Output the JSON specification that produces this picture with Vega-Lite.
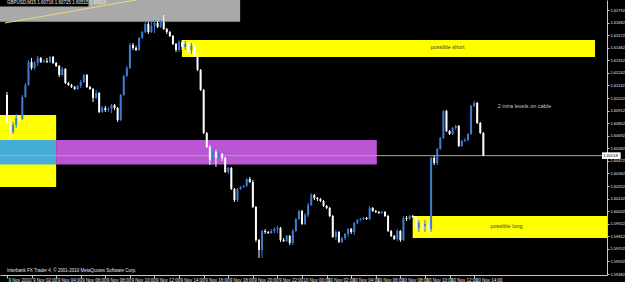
{
"$schema": "https://vega.github.io/schema/vega-lite/v6.json",
"width": 607,
"height": 275,
"autosize": "none",
"padding": {"left": 0, "top": 0, "right": 18, "bottom": 7},
"background": "#000000",
"view": {"stroke": null},
"config": {"font": "Liberation Sans", "text": {"font": "Liberation Sans"}},
"resolve": {"scale": {"color": "independent", "size": "independent"}},
"datasets": {
"zones": [
{"zone": "left", "t1": "2010-11-08T20:00", "t2": "2010-11-09T04:00", "p1": 1.60244, "p2": 1.60874},
{"zone": "overlap", "t1": "2010-11-08T20:00", "t2": "2010-11-09T04:00", "p1": 1.60441, "p2": 1.60655},
{"zone": "orchid", "t1": "2010-11-09T04:00", "t2": "2010-11-10T06:05", "p1": 1.60441, "p2": 1.60655},
{"zone": "short", "t1": "2010-11-09T14:14", "t2": "2010-11-10T23:50", "p1": 1.61381, "p2": 1.61530},
{"zone": "long", "t1": "2010-11-10T09:00", "t2": "2010-11-11T03:00", "p1": 1.59798, "p2": 1.59990},
{"zone": "header", "t1": "2010-11-08T20:00", "t2": "2010-11-09T18:58", "p1": 1.61690, "p2": 1.6200},
{"zone": "caption", "t1": "2010-11-08T20:00", "t2": "2010-11-09T06:38", "p1": 1.61823, "p2": 1.6200}
],
"bars": [
{"t":"2010-11-09T00:00","o":1.61049,"h":1.61075,"l":1.60795,"c":1.60813},
{"t":"2010-11-09T00:15","o":1.60813,"h":1.60848,"l":1.60673,"c":1.60725},
{"t":"2010-11-09T00:30","o":1.60725,"h":1.60813,"l":1.60708,"c":1.60786},
{"t":"2010-11-09T00:45","o":1.60786,"h":1.60883,"l":1.60760,"c":1.60848},
{"t":"2010-11-09T01:00","o":1.60848,"h":1.60874,"l":1.60813,"c":1.60839},
{"t":"2010-11-09T01:15","o":1.60839,"h":1.61049,"l":1.60830,"c":1.61031},
{"t":"2010-11-09T01:30","o":1.61031,"h":1.61154,"l":1.61023,"c":1.61136},
{"t":"2010-11-09T01:45","o":1.61136,"h":1.61355,"l":1.61128,"c":1.61338},
{"t":"2010-11-09T02:00","o":1.61338,"h":1.61373,"l":1.61268,"c":1.61285},
{"t":"2010-11-09T02:15","o":1.61285,"h":1.61346,"l":1.61268,"c":1.61329},
{"t":"2010-11-09T02:30","o":1.61329,"h":1.61390,"l":1.61303,"c":1.61373},
{"t":"2010-11-09T02:45","o":1.61373,"h":1.61381,"l":1.61329,"c":1.61338},
{"t":"2010-11-09T03:00","o":1.61338,"h":1.61364,"l":1.61329,"c":1.61346},
{"t":"2010-11-09T03:15","o":1.61346,"h":1.61373,"l":1.61329,"c":1.61338},
{"t":"2010-11-09T03:30","o":1.61338,"h":1.61390,"l":1.61329,"c":1.61381},
{"t":"2010-11-09T03:45","o":1.61381,"h":1.61390,"l":1.61320,"c":1.61329},
{"t":"2010-11-09T04:00","o":1.61329,"h":1.61338,"l":1.61294,"c":1.61303},
{"t":"2010-11-09T04:15","o":1.61303,"h":1.61311,"l":1.61206,"c":1.61224},
{"t":"2010-11-09T04:30","o":1.61224,"h":1.61294,"l":1.61215,"c":1.61276},
{"t":"2010-11-09T04:45","o":1.61276,"h":1.61285,"l":1.61145,"c":1.61154},
{"t":"2010-11-09T05:00","o":1.61154,"h":1.61163,"l":1.61128,"c":1.61136},
{"t":"2010-11-09T05:15","o":1.61136,"h":1.61145,"l":1.61110,"c":1.61119},
{"t":"2010-11-09T05:30","o":1.61119,"h":1.61128,"l":1.61093,"c":1.61101},
{"t":"2010-11-09T05:45","o":1.61101,"h":1.61136,"l":1.61093,"c":1.61128},
{"t":"2010-11-09T06:00","o":1.61128,"h":1.61180,"l":1.61110,"c":1.61163},
{"t":"2010-11-09T06:15","o":1.61163,"h":1.61233,"l":1.61154,"c":1.61224},
{"t":"2010-11-09T06:30","o":1.61224,"h":1.61233,"l":1.61110,"c":1.61119},
{"t":"2010-11-09T06:45","o":1.61119,"h":1.61128,"l":1.61093,"c":1.61101},
{"t":"2010-11-09T07:00","o":1.61101,"h":1.61110,"l":1.60988,"c":1.61023},
{"t":"2010-11-09T07:15","o":1.61023,"h":1.61093,"l":1.61014,"c":1.61066},
{"t":"2010-11-09T07:30","o":1.61066,"h":1.61075,"l":1.60891,"c":1.60900},
{"t":"2010-11-09T07:45","o":1.60900,"h":1.60953,"l":1.60891,"c":1.60935},
{"t":"2010-11-09T08:00","o":1.60935,"h":1.60953,"l":1.60900,"c":1.60918},
{"t":"2010-11-09T08:15","o":1.60918,"h":1.60944,"l":1.60900,"c":1.60926},
{"t":"2010-11-09T08:30","o":1.60926,"h":1.60970,"l":1.60891,"c":1.60961},
{"t":"2010-11-09T08:45","o":1.60961,"h":1.60970,"l":1.60918,"c":1.60935},
{"t":"2010-11-09T09:00","o":1.60935,"h":1.60944,"l":1.60813,"c":1.60830},
{"t":"2010-11-09T09:15","o":1.60830,"h":1.61058,"l":1.60821,"c":1.61049},
{"t":"2010-11-09T09:30","o":1.61049,"h":1.61224,"l":1.61040,"c":1.61215},
{"t":"2010-11-09T09:45","o":1.61215,"h":1.61303,"l":1.61206,"c":1.61285},
{"t":"2010-11-09T10:00","o":1.61285,"h":1.61504,"l":1.61276,"c":1.61486},
{"t":"2010-11-09T10:15","o":1.61486,"h":1.61504,"l":1.61443,"c":1.61460},
{"t":"2010-11-09T10:30","o":1.61460,"h":1.61478,"l":1.61434,"c":1.61443},
{"t":"2010-11-09T10:45","o":1.61443,"h":1.61556,"l":1.61434,"c":1.61548},
{"t":"2010-11-09T11:00","o":1.61548,"h":1.61609,"l":1.61539,"c":1.61600},
{"t":"2010-11-09T11:15","o":1.61600,"h":1.61696,"l":1.61591,"c":1.61670},
{"t":"2010-11-09T11:30","o":1.61670,"h":1.61688,"l":1.61583,"c":1.61600},
{"t":"2010-11-09T11:45","o":1.61600,"h":1.61688,"l":1.61591,"c":1.61653},
{"t":"2010-11-09T12:00","o":1.61653,"h":1.61705,"l":1.61591,"c":1.61679},
{"t":"2010-11-09T12:15","o":1.61679,"h":1.61696,"l":1.61635,"c":1.61644},
{"t":"2010-11-09T12:30","o":1.61644,"h":1.61705,"l":1.61635,"c":1.61688},
{"t":"2010-11-09T12:45","o":1.61688,"h":1.61749,"l":1.61618,"c":1.61626},
{"t":"2010-11-09T13:00","o":1.61626,"h":1.61635,"l":1.61583,"c":1.61600},
{"t":"2010-11-09T13:15","o":1.61600,"h":1.61609,"l":1.61556,"c":1.61565},
{"t":"2010-11-09T13:30","o":1.61565,"h":1.61574,"l":1.61486,"c":1.61495},
{"t":"2010-11-09T13:45","o":1.61495,"h":1.61504,"l":1.61425,"c":1.61443},
{"t":"2010-11-09T14:00","o":1.61443,"h":1.61530,"l":1.61425,"c":1.61513},
{"t":"2010-11-09T14:15","o":1.61513,"h":1.61530,"l":1.61443,"c":1.61469},
{"t":"2010-11-09T14:30","o":1.61469,"h":1.61521,"l":1.61443,"c":1.61495},
{"t":"2010-11-09T14:45","o":1.61495,"h":1.61513,"l":1.61416,"c":1.61443},
{"t":"2010-11-09T15:00","o":1.61443,"h":1.61504,"l":1.61408,"c":1.61478},
{"t":"2010-11-09T15:15","o":1.61478,"h":1.61495,"l":1.61381,"c":1.61399},
{"t":"2010-11-09T15:30","o":1.61399,"h":1.61408,"l":1.61259,"c":1.61268},
{"t":"2010-11-09T15:45","o":1.61268,"h":1.61276,"l":1.61084,"c":1.61093},
{"t":"2010-11-09T16:00","o":1.61093,"h":1.61101,"l":1.60708,"c":1.60716},
{"t":"2010-11-09T16:15","o":1.60716,"h":1.60725,"l":1.60585,"c":1.60594},
{"t":"2010-11-09T16:30","o":1.60594,"h":1.60611,"l":1.60436,"c":1.60480},
{"t":"2010-11-09T16:45","o":1.60480,"h":1.60585,"l":1.60436,"c":1.60550},
{"t":"2010-11-09T17:00","o":1.60550,"h":1.60568,"l":1.60419,"c":1.60498},
{"t":"2010-11-09T17:15","o":1.60498,"h":1.60550,"l":1.60480,"c":1.60533},
{"t":"2010-11-09T17:30","o":1.60533,"h":1.60541,"l":1.60471,"c":1.60498},
{"t":"2010-11-09T17:45","o":1.60498,"h":1.60506,"l":1.60366,"c":1.60375},
{"t":"2010-11-09T18:00","o":1.60375,"h":1.60419,"l":1.60358,"c":1.60410},
{"t":"2010-11-09T18:15","o":1.60410,"h":1.60419,"l":1.60218,"c":1.60226},
{"t":"2010-11-09T18:30","o":1.60226,"h":1.60235,"l":1.60113,"c":1.60130},
{"t":"2010-11-09T18:45","o":1.60130,"h":1.60235,"l":1.60113,"c":1.60226},
{"t":"2010-11-09T19:00","o":1.60226,"h":1.60253,"l":1.60218,"c":1.60244},
{"t":"2010-11-09T19:15","o":1.60244,"h":1.60261,"l":1.60235,"c":1.60253},
{"t":"2010-11-09T19:30","o":1.60253,"h":1.60323,"l":1.60244,"c":1.60314},
{"t":"2010-11-09T19:45","o":1.60314,"h":1.60331,"l":1.60279,"c":1.60288},
{"t":"2010-11-09T20:00","o":1.60288,"h":1.60305,"l":1.60060,"c":1.60069},
{"t":"2010-11-09T20:15","o":1.60069,"h":1.60078,"l":1.59763,"c":1.59780},
{"t":"2010-11-09T20:30","o":1.59780,"h":1.59789,"l":1.59623,"c":1.59693},
{"t":"2010-11-09T20:45","o":1.59693,"h":1.59868,"l":1.59623,"c":1.59859},
{"t":"2010-11-09T21:00","o":1.59859,"h":1.59876,"l":1.59833,"c":1.59850},
{"t":"2010-11-09T21:15","o":1.59850,"h":1.59859,"l":1.59833,"c":1.59841},
{"t":"2010-11-09T21:30","o":1.59841,"h":1.59876,"l":1.59833,"c":1.59859},
{"t":"2010-11-09T21:45","o":1.59859,"h":1.59894,"l":1.59841,"c":1.59876},
{"t":"2010-11-09T22:00","o":1.59876,"h":1.59903,"l":1.59841,"c":1.59885},
{"t":"2010-11-09T22:15","o":1.59885,"h":1.59894,"l":1.59763,"c":1.59780},
{"t":"2010-11-09T22:30","o":1.59780,"h":1.59798,"l":1.59763,"c":1.59771},
{"t":"2010-11-09T22:45","o":1.59771,"h":1.59824,"l":1.59763,"c":1.59815},
{"t":"2010-11-09T23:00","o":1.59815,"h":1.59824,"l":1.59736,"c":1.59754},
{"t":"2010-11-09T23:15","o":1.59754,"h":1.59876,"l":1.59736,"c":1.59859},
{"t":"2010-11-09T23:30","o":1.59859,"h":1.59973,"l":1.59850,"c":1.59964},
{"t":"2010-11-09T23:45","o":1.59964,"h":1.60043,"l":1.59955,"c":1.60034},
{"t":"2010-11-10T00:00","o":1.60034,"h":1.60043,"l":1.59911,"c":1.59920},
{"t":"2010-11-10T00:15","o":1.59920,"h":1.60016,"l":1.59911,"c":1.59999},
{"t":"2010-11-10T00:30","o":1.59999,"h":1.60104,"l":1.59981,"c":1.60086},
{"t":"2010-11-10T00:45","o":1.60086,"h":1.60191,"l":1.60078,"c":1.60174},
{"t":"2010-11-10T01:00","o":1.60174,"h":1.60183,"l":1.60130,"c":1.60148},
{"t":"2010-11-10T01:15","o":1.60148,"h":1.60156,"l":1.60121,"c":1.60139},
{"t":"2010-11-10T01:30","o":1.60139,"h":1.60148,"l":1.60113,"c":1.60121},
{"t":"2010-11-10T01:45","o":1.60121,"h":1.60130,"l":1.60069,"c":1.60078},
{"t":"2010-11-10T02:00","o":1.60078,"h":1.60086,"l":1.60051,"c":1.60060},
{"t":"2010-11-10T02:15","o":1.60060,"h":1.60069,"l":1.59981,"c":1.59990},
{"t":"2010-11-10T02:30","o":1.59990,"h":1.59999,"l":1.59798,"c":1.59806},
{"t":"2010-11-10T02:45","o":1.59806,"h":1.59868,"l":1.59780,"c":1.59850},
{"t":"2010-11-10T03:00","o":1.59850,"h":1.59859,"l":1.59754,"c":1.59763},
{"t":"2010-11-10T03:15","o":1.59763,"h":1.59806,"l":1.59754,"c":1.59798},
{"t":"2010-11-10T03:30","o":1.59798,"h":1.59841,"l":1.59780,"c":1.59833},
{"t":"2010-11-10T03:45","o":1.59833,"h":1.59885,"l":1.59806,"c":1.59876},
{"t":"2010-11-10T04:00","o":1.59876,"h":1.59885,"l":1.59833,"c":1.59850},
{"t":"2010-11-10T04:15","o":1.59850,"h":1.59938,"l":1.59824,"c":1.59929},
{"t":"2010-11-10T04:30","o":1.59929,"h":1.59964,"l":1.59920,"c":1.59955},
{"t":"2010-11-10T04:45","o":1.59955,"h":1.59973,"l":1.59946,"c":1.59964},
{"t":"2010-11-10T05:00","o":1.59964,"h":1.59981,"l":1.59955,"c":1.59973},
{"t":"2010-11-10T05:15","o":1.59973,"h":1.59981,"l":1.59955,"c":1.59964},
{"t":"2010-11-10T05:30","o":1.59964,"h":1.60078,"l":1.59955,"c":1.60060},
{"t":"2010-11-10T05:45","o":1.60060,"h":1.60069,"l":1.60025,"c":1.60034},
{"t":"2010-11-10T06:00","o":1.60034,"h":1.60043,"l":1.60016,"c":1.60025},
{"t":"2010-11-10T06:15","o":1.60025,"h":1.60034,"l":1.60008,"c":1.60016},
{"t":"2010-11-10T06:30","o":1.60016,"h":1.60034,"l":1.60008,"c":1.60025},
{"t":"2010-11-10T06:45","o":1.60025,"h":1.60034,"l":1.59981,"c":1.59990},
{"t":"2010-11-10T07:00","o":1.59990,"h":1.59999,"l":1.59850,"c":1.59859},
{"t":"2010-11-10T07:15","o":1.59859,"h":1.59868,"l":1.59806,"c":1.59815},
{"t":"2010-11-10T07:30","o":1.59815,"h":1.59824,"l":1.59780,"c":1.59789},
{"t":"2010-11-10T07:45","o":1.59789,"h":1.59876,"l":1.59771,"c":1.59859},
{"t":"2010-11-10T08:00","o":1.59859,"h":1.59868,"l":1.59763,"c":1.59780},
{"t":"2010-11-10T08:15","o":1.59780,"h":1.59990,"l":1.59771,"c":1.59973},
{"t":"2010-11-10T08:30","o":1.59973,"h":1.59990,"l":1.59946,"c":1.59964},
{"t":"2010-11-10T08:45","o":1.59964,"h":1.59999,"l":1.59955,"c":1.59990},
{"t":"2010-11-10T09:00","o":1.59990,"h":1.59999,"l":1.59973,"c":1.59981},
{"t":"2010-11-10T09:15","o":1.59981,"h":1.59990,"l":1.59841,"c":1.59885},
{"t":"2010-11-10T09:30","o":1.59885,"h":1.59955,"l":1.59850,"c":1.59929},
{"t":"2010-11-10T09:45","o":1.59929,"h":1.59946,"l":1.59859,"c":1.59903},
{"t":"2010-11-10T10:00","o":1.59903,"h":1.59955,"l":1.59850,"c":1.59920},
{"t":"2010-11-10T10:15","o":1.59920,"h":1.59955,"l":1.59841,"c":1.59876},
{"t":"2010-11-10T10:30","o":1.59876,"h":1.60506,"l":1.59850,"c":1.60498},
{"t":"2010-11-10T10:45","o":1.60498,"h":1.60515,"l":1.60436,"c":1.60454},
{"t":"2010-11-10T11:00","o":1.60454,"h":1.60585,"l":1.60436,"c":1.60576},
{"t":"2010-11-10T11:15","o":1.60576,"h":1.60681,"l":1.60568,"c":1.60673},
{"t":"2010-11-10T11:30","o":1.60673,"h":1.60918,"l":1.60664,"c":1.60909},
{"t":"2010-11-10T11:45","o":1.60909,"h":1.60918,"l":1.60725,"c":1.60734},
{"t":"2010-11-10T12:00","o":1.60734,"h":1.60743,"l":1.60699,"c":1.60708},
{"t":"2010-11-10T12:15","o":1.60708,"h":1.60769,"l":1.60699,"c":1.60760},
{"t":"2010-11-10T12:30","o":1.60760,"h":1.60786,"l":1.60743,"c":1.60778},
{"t":"2010-11-10T12:45","o":1.60778,"h":1.60786,"l":1.60594,"c":1.60603},
{"t":"2010-11-10T13:00","o":1.60603,"h":1.60655,"l":1.60594,"c":1.60646},
{"t":"2010-11-10T13:15","o":1.60646,"h":1.60673,"l":1.60638,"c":1.60655},
{"t":"2010-11-10T13:30","o":1.60655,"h":1.60716,"l":1.60646,"c":1.60708},
{"t":"2010-11-10T13:45","o":1.60708,"h":1.60961,"l":1.60699,"c":1.60953},
{"t":"2010-11-10T14:00","o":1.60953,"h":1.60996,"l":1.60944,"c":1.60979},
{"t":"2010-11-10T14:15","o":1.60979,"h":1.60988,"l":1.60795,"c":1.60804},
{"t":"2010-11-10T14:30","o":1.60804,"h":1.60813,"l":1.60708,"c":1.60716},
{"t":"2010-11-10T14:45","o":1.60716,"h":1.60725,"l":1.60515,"c":1.60518}
]
},
"layer": [
{
"data": {"name": "zones"},
"mark": {"type": "rect", "clip": true},
"encoding": {
"x": {"field": "t1", "type": "temporal", "title": null,
"scale": {"domain": [{"year": 2010, "month": 11, "date": 8, "hours": 23, "minutes": 50, "seconds": 24}, {"year": 2010, "month": 11, "date": 11, "hours": 0, "minutes": 24}], "nice": false},
"axis": {"values": [{"year": 2010, "month": 11, "date": 9, "hours": 0}, {"year": 2010, "month": 11, "date": 9, "hours": 2}, {"year": 2010, "month": 11, "date": 9, "hours": 4}, {"year": 2010, "month": 11, "date": 9, "hours": 6}, {"year": 2010, "month": 11, "date": 9, "hours": 8}, {"year": 2010, "month": 11, "date": 9, "hours": 10}, {"year": 2010, "month": 11, "date": 9, "hours": 12}, {"year": 2010, "month": 11, "date": 9, "hours": 14}, {"year": 2010, "month": 11, "date": 9, "hours": 16}, {"year": 2010, "month": 11, "date": 9, "hours": 18}, {"year": 2010, "month": 11, "date": 9, "hours": 20}, {"year": 2010, "month": 11, "date": 9, "hours": 22}, {"year": 2010, "month": 11, "date": 10, "hours": 0}, {"year": 2010, "month": 11, "date": 10, "hours": 2}, {"year": 2010, "month": 11, "date": 10, "hours": 4}, {"year": 2010, "month": 11, "date": 10, "hours": 6}, {"year": 2010, "month": 11, "date": 10, "hours": 8}, {"year": 2010, "month": 11, "date": 10, "hours": 10}, {"year": 2010, "month": 11, "date": 10, "hours": 12}, {"year": 2010, "month": 11, "date": 10, "hours": 14}], "labelExpr": "datum.index == 0 ? '9 Nov 2010' : timeFormat(datum.value, '%-d %b %H:%M')", "labelAlign": "left", "labelBaseline": "top", "labelPadding": -1, "labelOffset": 1, "labelColor": "#E6E6E6", "labelFontSize": 4.5, "labelFont": "Liberation Sans", "tickSize": 3, "tickColor": "#C8C8C8", "domainColor": "#C8C8C8", "grid": false, "labelOverlap": false, "labelFlush": false}},
"x2": {"field": "t2"},
"y": {"field": "p1", "type": "quantitative", "title": null,
"scale": {"domain": [1.5947375, 1.6188], "nice": false, "zero": false},
"axis": {"orient": "right", "values": [1.61792, 1.61682, 1.61572, 1.61462, 1.61352, 1.61242, 1.61132, 1.61022, 1.60912, 1.60802, 1.60692, 1.60582, 1.60472, 1.60362, 1.60252, 1.60142, 1.60032, 1.59922, 1.59812, 1.59702, 1.59592, 1.59482], "format": ".5f", "labelColor": "#E6E6E6", "labelFontSize": 4, "labelFont": "Liberation Sans", "labelPadding": 1, "tickSize": 2, "tickColor": "#C8C8C8", "domainColor": "#C8C8C8", "grid": false, "labelOverlap": false, "labelFlush": false}},
"y2": {"field": "p2"},
"color": {"field": "zone", "type": "nominal", "legend": null, "scale": {"domain": ["left", "overlap", "orchid", "short", "long", "header", "caption"], "range": ["#FFFF00", "#46AED6", "#BA55D3", "#FFFF00", "#FFFF00", "#A9A9A9", "#000000"]}}
}
},
{
"data": {"values": [{"p": 1.60518}]},
"mark": {"type": "rule", "color": "#A8A8A8", "strokeWidth": 1},
"encoding": {"y": {"field": "p", "type": "quantitative", "title": null,
"scale": {"domain": [1.5947375, 1.6188], "nice": false, "zero": false},
"axis": {"orient": "right", "values": [1.61792, 1.61682, 1.61572, 1.61462, 1.61352, 1.61242, 1.61132, 1.61022, 1.60912, 1.60802, 1.60692, 1.60582, 1.60472, 1.60362, 1.60252, 1.60142, 1.60032, 1.59922, 1.59812, 1.59702, 1.59592, 1.59482], "format": ".5f", "labelColor": "#E6E6E6", "labelFontSize": 4, "labelFont": "Liberation Sans", "labelPadding": 1, "tickSize": 2, "tickColor": "#C8C8C8", "domainColor": "#C8C8C8", "grid": false, "labelOverlap": false, "labelFlush": false}}}
},
{
"data": {"values": [{"t1": "2010-11-08T23:50", "t2": "2010-11-09T10:29", "p1": 1.61679, "p2": 1.6188}]},
"mark": {"type": "rule", "color": "#E4DE74", "strokeWidth": 1, "clip": true},
"encoding": {
"x": {"field": "t1", "type": "temporal", "title": null,
"scale": {"domain": [{"year": 2010, "month": 11, "date": 8, "hours": 23, "minutes": 50, "seconds": 24}, {"year": 2010, "month": 11, "date": 11, "hours": 0, "minutes": 24}], "nice": false},
"axis": {"values": [{"year": 2010, "month": 11, "date": 9, "hours": 0}, {"year": 2010, "month": 11, "date": 9, "hours": 2}, {"year": 2010, "month": 11, "date": 9, "hours": 4}, {"year": 2010, "month": 11, "date": 9, "hours": 6}, {"year": 2010, "month": 11, "date": 9, "hours": 8}, {"year": 2010, "month": 11, "date": 9, "hours": 10}, {"year": 2010, "month": 11, "date": 9, "hours": 12}, {"year": 2010, "month": 11, "date": 9, "hours": 14}, {"year": 2010, "month": 11, "date": 9, "hours": 16}, {"year": 2010, "month": 11, "date": 9, "hours": 18}, {"year": 2010, "month": 11, "date": 9, "hours": 20}, {"year": 2010, "month": 11, "date": 9, "hours": 22}, {"year": 2010, "month": 11, "date": 10, "hours": 0}, {"year": 2010, "month": 11, "date": 10, "hours": 2}, {"year": 2010, "month": 11, "date": 10, "hours": 4}, {"year": 2010, "month": 11, "date": 10, "hours": 6}, {"year": 2010, "month": 11, "date": 10, "hours": 8}, {"year": 2010, "month": 11, "date": 10, "hours": 10}, {"year": 2010, "month": 11, "date": 10, "hours": 12}, {"year": 2010, "month": 11, "date": 10, "hours": 14}], "labelExpr": "datum.index == 0 ? '9 Nov 2010' : timeFormat(datum.value, '%-d %b %H:%M')", "labelAlign": "left", "labelBaseline": "top", "labelPadding": -1, "labelOffset": 1, "labelColor": "#E6E6E6", "labelFontSize": 4.5, "labelFont": "Liberation Sans", "tickSize": 3, "tickColor": "#C8C8C8", "domainColor": "#C8C8C8", "grid": false, "labelOverlap": false, "labelFlush": false}},
"x2": {"field": "t2"},
"y": {"field": "p1", "type": "quantitative", "title": null,
"scale": {"domain": [1.5947375, 1.6188], "nice": false, "zero": false},
"axis": {"orient": "right", "values": [1.61792, 1.61682, 1.61572, 1.61462, 1.61352, 1.61242, 1.61132, 1.61022, 1.60912, 1.60802, 1.60692, 1.60582, 1.60472, 1.60362, 1.60252, 1.60142, 1.60032, 1.59922, 1.59812, 1.59702, 1.59592, 1.59482], "format": ".5f", "labelColor": "#E6E6E6", "labelFontSize": 4, "labelFont": "Liberation Sans", "labelPadding": 1, "tickSize": 2, "tickColor": "#C8C8C8", "domainColor": "#C8C8C8", "grid": false, "labelOverlap": false, "labelFlush": false}},
"y2": {"field": "p2"}
}
},
{
"data": {"name": "bars"},
"mark": {"type": "rule", "strokeWidth": 1},
"encoding": {
"x": {"field": "t", "type": "temporal", "title": null,
"scale": {"domain": [{"year": 2010, "month": 11, "date": 8, "hours": 23, "minutes": 50, "seconds": 24}, {"year": 2010, "month": 11, "date": 11, "hours": 0, "minutes": 24}], "nice": false},
"axis": {"values": [{"year": 2010, "month": 11, "date": 9, "hours": 0}, {"year": 2010, "month": 11, "date": 9, "hours": 2}, {"year": 2010, "month": 11, "date": 9, "hours": 4}, {"year": 2010, "month": 11, "date": 9, "hours": 6}, {"year": 2010, "month": 11, "date": 9, "hours": 8}, {"year": 2010, "month": 11, "date": 9, "hours": 10}, {"year": 2010, "month": 11, "date": 9, "hours": 12}, {"year": 2010, "month": 11, "date": 9, "hours": 14}, {"year": 2010, "month": 11, "date": 9, "hours": 16}, {"year": 2010, "month": 11, "date": 9, "hours": 18}, {"year": 2010, "month": 11, "date": 9, "hours": 20}, {"year": 2010, "month": 11, "date": 9, "hours": 22}, {"year": 2010, "month": 11, "date": 10, "hours": 0}, {"year": 2010, "month": 11, "date": 10, "hours": 2}, {"year": 2010, "month": 11, "date": 10, "hours": 4}, {"year": 2010, "month": 11, "date": 10, "hours": 6}, {"year": 2010, "month": 11, "date": 10, "hours": 8}, {"year": 2010, "month": 11, "date": 10, "hours": 10}, {"year": 2010, "month": 11, "date": 10, "hours": 12}, {"year": 2010, "month": 11, "date": 10, "hours": 14}], "labelExpr": "datum.index == 0 ? '9 Nov 2010' : timeFormat(datum.value, '%-d %b %H:%M')", "labelAlign": "left", "labelBaseline": "top", "labelPadding": -1, "labelOffset": 1, "labelColor": "#E6E6E6", "labelFontSize": 4.5, "labelFont": "Liberation Sans", "tickSize": 3, "tickColor": "#C8C8C8", "domainColor": "#C8C8C8", "grid": false, "labelOverlap": false, "labelFlush": false}},
"y": {"field": "l", "type": "quantitative", "title": null,
"scale": {"domain": [1.5947375, 1.6188], "nice": false, "zero": false},
"axis": {"orient": "right", "values": [1.61792, 1.61682, 1.61572, 1.61462, 1.61352, 1.61242, 1.61132, 1.61022, 1.60912, 1.60802, 1.60692, 1.60582, 1.60472, 1.60362, 1.60252, 1.60142, 1.60032, 1.59922, 1.59812, 1.59702, 1.59592, 1.59482], "format": ".5f", "labelColor": "#E6E6E6", "labelFontSize": 4, "labelFont": "Liberation Sans", "labelPadding": 1, "tickSize": 2, "tickColor": "#C8C8C8", "domainColor": "#C8C8C8", "grid": false, "labelOverlap": false, "labelFlush": false}},
"y2": {"field": "h"},
"color": {"condition": {"test": "datum.c > datum.o", "value": "#3D7DD2"}, "value": "#FFFFFF"}
}
},
{
"data": {"name": "bars"},
"mark": {"type": "bar", "width": 2},
"encoding": {
"x": {"field": "t", "type": "temporal", "title": null,
"scale": {"domain": [{"year": 2010, "month": 11, "date": 8, "hours": 23, "minutes": 50, "seconds": 24}, {"year": 2010, "month": 11, "date": 11, "hours": 0, "minutes": 24}], "nice": false},
"axis": {"values": [{"year": 2010, "month": 11, "date": 9, "hours": 0}, {"year": 2010, "month": 11, "date": 9, "hours": 2}, {"year": 2010, "month": 11, "date": 9, "hours": 4}, {"year": 2010, "month": 11, "date": 9, "hours": 6}, {"year": 2010, "month": 11, "date": 9, "hours": 8}, {"year": 2010, "month": 11, "date": 9, "hours": 10}, {"year": 2010, "month": 11, "date": 9, "hours": 12}, {"year": 2010, "month": 11, "date": 9, "hours": 14}, {"year": 2010, "month": 11, "date": 9, "hours": 16}, {"year": 2010, "month": 11, "date": 9, "hours": 18}, {"year": 2010, "month": 11, "date": 9, "hours": 20}, {"year": 2010, "month": 11, "date": 9, "hours": 22}, {"year": 2010, "month": 11, "date": 10, "hours": 0}, {"year": 2010, "month": 11, "date": 10, "hours": 2}, {"year": 2010, "month": 11, "date": 10, "hours": 4}, {"year": 2010, "month": 11, "date": 10, "hours": 6}, {"year": 2010, "month": 11, "date": 10, "hours": 8}, {"year": 2010, "month": 11, "date": 10, "hours": 10}, {"year": 2010, "month": 11, "date": 10, "hours": 12}, {"year": 2010, "month": 11, "date": 10, "hours": 14}], "labelExpr": "datum.index == 0 ? '9 Nov 2010' : timeFormat(datum.value, '%-d %b %H:%M')", "labelAlign": "left", "labelBaseline": "top", "labelPadding": -1, "labelOffset": 1, "labelColor": "#E6E6E6", "labelFontSize": 4.5, "labelFont": "Liberation Sans", "tickSize": 3, "tickColor": "#C8C8C8", "domainColor": "#C8C8C8", "grid": false, "labelOverlap": false, "labelFlush": false}},
"y": {"field": "o", "type": "quantitative", "title": null,
"scale": {"domain": [1.5947375, 1.6188], "nice": false, "zero": false},
"axis": {"orient": "right", "values": [1.61792, 1.61682, 1.61572, 1.61462, 1.61352, 1.61242, 1.61132, 1.61022, 1.60912, 1.60802, 1.60692, 1.60582, 1.60472, 1.60362, 1.60252, 1.60142, 1.60032, 1.59922, 1.59812, 1.59702, 1.59592, 1.59482], "format": ".5f", "labelColor": "#E6E6E6", "labelFontSize": 4, "labelFont": "Liberation Sans", "labelPadding": 1, "tickSize": 2, "tickColor": "#C8C8C8", "domainColor": "#C8C8C8", "grid": false, "labelOverlap": false, "labelFlush": false}},
"y2": {"field": "c"},
"color": {"condition": {"test": "datum.c > datum.o", "value": "#3D7DD2"}, "value": "#FFFFFF"}
}
},
{
"data": {"values": [{"t1": "2010-11-11T00:24", "t2": "2010-11-11T01:55", "p1": 1.60489, "p2": 1.60547}]},
"mark": {"type": "rect", "color": "#FFFFFF", "clip": false},
"encoding": {
"x": {"field": "t1", "type": "temporal", "title": null,
"scale": {"domain": [{"year": 2010, "month": 11, "date": 8, "hours": 23, "minutes": 50, "seconds": 24}, {"year": 2010, "month": 11, "date": 11, "hours": 0, "minutes": 24}], "nice": false},
"axis": {"values": [{"year": 2010, "month": 11, "date": 9, "hours": 0}, {"year": 2010, "month": 11, "date": 9, "hours": 2}, {"year": 2010, "month": 11, "date": 9, "hours": 4}, {"year": 2010, "month": 11, "date": 9, "hours": 6}, {"year": 2010, "month": 11, "date": 9, "hours": 8}, {"year": 2010, "month": 11, "date": 9, "hours": 10}, {"year": 2010, "month": 11, "date": 9, "hours": 12}, {"year": 2010, "month": 11, "date": 9, "hours": 14}, {"year": 2010, "month": 11, "date": 9, "hours": 16}, {"year": 2010, "month": 11, "date": 9, "hours": 18}, {"year": 2010, "month": 11, "date": 9, "hours": 20}, {"year": 2010, "month": 11, "date": 9, "hours": 22}, {"year": 2010, "month": 11, "date": 10, "hours": 0}, {"year": 2010, "month": 11, "date": 10, "hours": 2}, {"year": 2010, "month": 11, "date": 10, "hours": 4}, {"year": 2010, "month": 11, "date": 10, "hours": 6}, {"year": 2010, "month": 11, "date": 10, "hours": 8}, {"year": 2010, "month": 11, "date": 10, "hours": 10}, {"year": 2010, "month": 11, "date": 10, "hours": 12}, {"year": 2010, "month": 11, "date": 10, "hours": 14}], "labelExpr": "datum.index == 0 ? '9 Nov 2010' : timeFormat(datum.value, '%-d %b %H:%M')", "labelAlign": "left", "labelBaseline": "top", "labelPadding": -1, "labelOffset": 1, "labelColor": "#E6E6E6", "labelFontSize": 4.5, "labelFont": "Liberation Sans", "tickSize": 3, "tickColor": "#C8C8C8", "domainColor": "#C8C8C8", "grid": false, "labelOverlap": false, "labelFlush": false}},
"x2": {"field": "t2"},
"y": {"field": "p1", "type": "quantitative", "title": null,
"scale": {"domain": [1.5947375, 1.6188], "nice": false, "zero": false},
"axis": {"orient": "right", "values": [1.61792, 1.61682, 1.61572, 1.61462, 1.61352, 1.61242, 1.61132, 1.61022, 1.60912, 1.60802, 1.60692, 1.60582, 1.60472, 1.60362, 1.60252, 1.60142, 1.60032, 1.59922, 1.59812, 1.59702, 1.59592, 1.59482], "format": ".5f", "labelColor": "#E6E6E6", "labelFontSize": 4, "labelFont": "Liberation Sans", "labelPadding": 1, "tickSize": 2, "tickColor": "#C8C8C8", "domainColor": "#C8C8C8", "grid": false, "labelOverlap": false, "labelFlush": false}},
"y2": {"field": "p2"}
}
},
{
"data": {"values": [{"t": "2010-11-11T00:31", "p": 1.60518, "label": "1.60518", "kind": "price"}, {"t": "2010-11-09T00:00", "p": 1.59509, "label": "Interbank FX Trader 4, © 2001-2010 MetaQuotes Software Corp.", "kind": "info"}, {"t": "2010-11-09T00:00", "p": 1.61852, "label": "GBPUSD,M15  1.60716 1.60725 1.60515 1.60518", "kind": "info"}]},
"mark": {"type": "text", "baseline": "middle", "align": "left", "clip": false},
"encoding": {
"x": {"field": "t", "type": "temporal", "title": null,
"scale": {"domain": [{"year": 2010, "month": 11, "date": 8, "hours": 23, "minutes": 50, "seconds": 24}, {"year": 2010, "month": 11, "date": 11, "hours": 0, "minutes": 24}], "nice": false},
"axis": {"values": [{"year": 2010, "month": 11, "date": 9, "hours": 0}, {"year": 2010, "month": 11, "date": 9, "hours": 2}, {"year": 2010, "month": 11, "date": 9, "hours": 4}, {"year": 2010, "month": 11, "date": 9, "hours": 6}, {"year": 2010, "month": 11, "date": 9, "hours": 8}, {"year": 2010, "month": 11, "date": 9, "hours": 10}, {"year": 2010, "month": 11, "date": 9, "hours": 12}, {"year": 2010, "month": 11, "date": 9, "hours": 14}, {"year": 2010, "month": 11, "date": 9, "hours": 16}, {"year": 2010, "month": 11, "date": 9, "hours": 18}, {"year": 2010, "month": 11, "date": 9, "hours": 20}, {"year": 2010, "month": 11, "date": 9, "hours": 22}, {"year": 2010, "month": 11, "date": 10, "hours": 0}, {"year": 2010, "month": 11, "date": 10, "hours": 2}, {"year": 2010, "month": 11, "date": 10, "hours": 4}, {"year": 2010, "month": 11, "date": 10, "hours": 6}, {"year": 2010, "month": 11, "date": 10, "hours": 8}, {"year": 2010, "month": 11, "date": 10, "hours": 10}, {"year": 2010, "month": 11, "date": 10, "hours": 12}, {"year": 2010, "month": 11, "date": 10, "hours": 14}], "labelExpr": "datum.index == 0 ? '9 Nov 2010' : timeFormat(datum.value, '%-d %b %H:%M')", "labelAlign": "left", "labelBaseline": "top", "labelPadding": -1, "labelOffset": 1, "labelColor": "#E6E6E6", "labelFontSize": 4.5, "labelFont": "Liberation Sans", "tickSize": 3, "tickColor": "#C8C8C8", "domainColor": "#C8C8C8", "grid": false, "labelOverlap": false, "labelFlush": false}},
"y": {"field": "p", "type": "quantitative", "title": null,
"scale": {"domain": [1.5947375, 1.6188], "nice": false, "zero": false},
"axis": {"orient": "right", "values": [1.61792, 1.61682, 1.61572, 1.61462, 1.61352, 1.61242, 1.61132, 1.61022, 1.60912, 1.60802, 1.60692, 1.60582, 1.60472, 1.60362, 1.60252, 1.60142, 1.60032, 1.59922, 1.59812, 1.59702, 1.59592, 1.59482], "format": ".5f", "labelColor": "#E6E6E6", "labelFontSize": 4, "labelFont": "Liberation Sans", "labelPadding": 1, "tickSize": 2, "tickColor": "#C8C8C8", "domainColor": "#C8C8C8", "grid": false, "labelOverlap": false, "labelFlush": false}},
"text": {"field": "label"},
"color": {"field": "kind", "type": "nominal", "legend": null, "scale": {"domain": ["price", "info"], "range": ["#000000", "#E6E6E6"]}},
"size": {"field": "kind", "type": "nominal", "legend": null, "scale": {"domain": ["price", "info"], "range": [4, 4.5]}}
}
},
{
"data": {"values": [{"t": "2010-11-10T11:50", "p": 1.61469, "label": "possible short", "kind": "zone"}, {"t": "2010-11-10T16:38", "p": 1.59903, "label": "possible long", "kind": "zone"}, {"t": "2010-11-10T18:05", "p": 1.60953, "label": "2 intra levels on cable", "kind": "note"}]},
"mark": {"type": "text", "baseline": "middle", "align": "center", "fontSize": 5.5},
"encoding": {
"x": {"field": "t", "type": "temporal", "title": null,
"scale": {"domain": [{"year": 2010, "month": 11, "date": 8, "hours": 23, "minutes": 50, "seconds": 24}, {"year": 2010, "month": 11, "date": 11, "hours": 0, "minutes": 24}], "nice": false},
"axis": {"values": [{"year": 2010, "month": 11, "date": 9, "hours": 0}, {"year": 2010, "month": 11, "date": 9, "hours": 2}, {"year": 2010, "month": 11, "date": 9, "hours": 4}, {"year": 2010, "month": 11, "date": 9, "hours": 6}, {"year": 2010, "month": 11, "date": 9, "hours": 8}, {"year": 2010, "month": 11, "date": 9, "hours": 10}, {"year": 2010, "month": 11, "date": 9, "hours": 12}, {"year": 2010, "month": 11, "date": 9, "hours": 14}, {"year": 2010, "month": 11, "date": 9, "hours": 16}, {"year": 2010, "month": 11, "date": 9, "hours": 18}, {"year": 2010, "month": 11, "date": 9, "hours": 20}, {"year": 2010, "month": 11, "date": 9, "hours": 22}, {"year": 2010, "month": 11, "date": 10, "hours": 0}, {"year": 2010, "month": 11, "date": 10, "hours": 2}, {"year": 2010, "month": 11, "date": 10, "hours": 4}, {"year": 2010, "month": 11, "date": 10, "hours": 6}, {"year": 2010, "month": 11, "date": 10, "hours": 8}, {"year": 2010, "month": 11, "date": 10, "hours": 10}, {"year": 2010, "month": 11, "date": 10, "hours": 12}, {"year": 2010, "month": 11, "date": 10, "hours": 14}], "labelExpr": "datum.index == 0 ? '9 Nov 2010' : timeFormat(datum.value, '%-d %b %H:%M')", "labelAlign": "left", "labelBaseline": "top", "labelPadding": -1, "labelOffset": 1, "labelColor": "#E6E6E6", "labelFontSize": 4.5, "labelFont": "Liberation Sans", "tickSize": 3, "tickColor": "#C8C8C8", "domainColor": "#C8C8C8", "grid": false, "labelOverlap": false, "labelFlush": false}},
"y": {"field": "p", "type": "quantitative", "title": null,
"scale": {"domain": [1.5947375, 1.6188], "nice": false, "zero": false},
"axis": {"orient": "right", "values": [1.61792, 1.61682, 1.61572, 1.61462, 1.61352, 1.61242, 1.61132, 1.61022, 1.60912, 1.60802, 1.60692, 1.60582, 1.60472, 1.60362, 1.60252, 1.60142, 1.60032, 1.59922, 1.59812, 1.59702, 1.59592, 1.59482], "format": ".5f", "labelColor": "#E6E6E6", "labelFontSize": 4, "labelFont": "Liberation Sans", "labelPadding": 1, "tickSize": 2, "tickColor": "#C8C8C8", "domainColor": "#C8C8C8", "grid": false, "labelOverlap": false, "labelFlush": false}},
"text": {"field": "label"},
"color": {"field": "kind", "type": "nominal", "legend": null, "scale": {"domain": ["zone", "note"], "range": ["#404040", "#C8C8C8"]}}
}
}
]
}
